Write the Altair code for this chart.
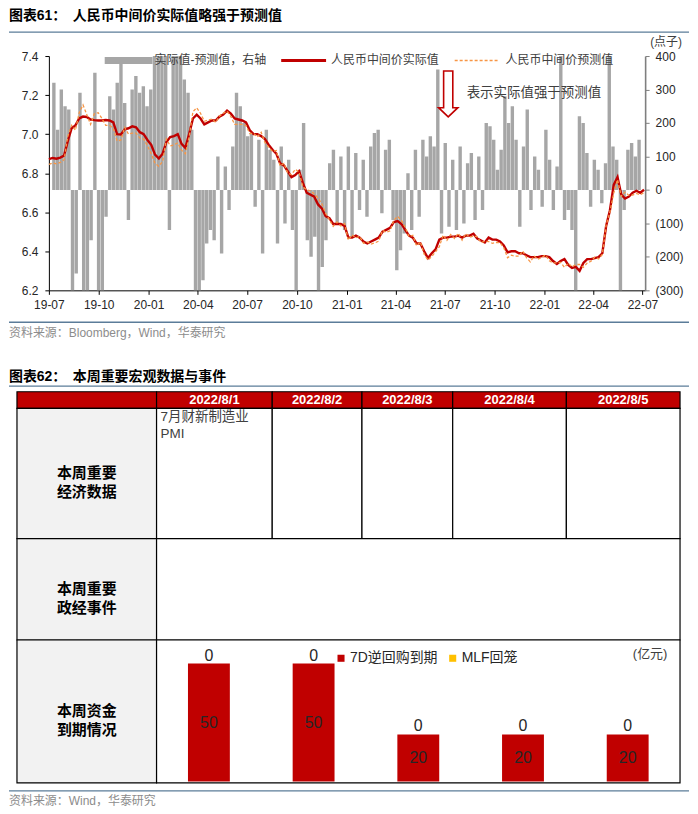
import altair as alt
import pandas as pd

# ---------------- Figure 61 data (weekly readings) ----------------
dates = pd.date_range("2019-07-01", periods=158, freq="7D").strftime("%Y-%m-%d").tolist()

diff_points = [
    320, 180, 300, 250, 240,
    -330, -250, 290, -320,
    -330, -150, 350, -330, -320, -80,
    280, 240, 320, 380, 260, -90, 300, 340, 290, 310, 250, 300,
    450, 450, 420, 400,
    -120, 450, 450, 440,
    330, 290, 180,
    -330, -330,
    -270, -160, -120,
    -150, 100, -190, 70, -60,
    130, 290, 250, 200, 160,
    170, -50, 150,
    -190, 180, 120,
    90, -160, 130, -100,
    90, -120, -330, 60,
    200, -150, -200, -140, -330,
    -230, -150, 80, 120, -100,
    100, -120, 130, -140, 110, -60,
    90, -80, 130, 170, 180, -70, 120, 150, -90,
    -240, -180, -130, 50, -120,
    120, -80, 150, 100, 160, 130, 360,
    -130, 140, -110, 90, -120,
    130, -100, 80, 110, -90, 100, -60,
    200, 190, 150, 60,
    120, 280, 200, 250, 150,
    -110, 130, 240, -60, 100,
    60, -50, 180, 90, -60, 70,
    420,
    -90, -60, -120, -330,
    220, 200,
    110, -50, 90, 60, -40, 80,
    430,
    130, 90,
    -330,
    -60, 120, 140, 100, 150,
]

fix_actual = [
    6.872, 6.878, 6.874, 6.880, 6.890, 6.965, 7.030, 7.045, 7.080, 7.090,
    7.088, 7.075, 7.072, 7.070, 7.070, 7.072, 7.070, 7.060, 7.000, 6.998,
    7.025, 7.030, 7.040, 7.035, 7.010, 7.000, 6.970, 6.945, 6.895, 6.875,
    6.900, 6.960, 6.985, 6.990, 7.000, 6.950, 6.930, 7.000, 7.080, 7.100,
    7.080, 7.050, 7.060, 7.070, 7.070, 7.090, 7.100, 7.120, 7.105, 7.080,
    7.075, 7.070, 7.060, 7.020, 7.000, 7.000, 6.990, 6.975, 6.945, 6.920,
    6.900, 6.850, 6.840, 6.810, 6.780, 6.790, 6.810, 6.750, 6.700, 6.690,
    6.680, 6.640, 6.620, 6.580, 6.570, 6.540, 6.540, 6.540, 6.530, 6.470,
    6.470, 6.480, 6.470, 6.450, 6.440, 6.450, 6.460, 6.470, 6.500, 6.510,
    6.520, 6.550, 6.555, 6.540, 6.510, 6.480, 6.470, 6.440, 6.440, 6.400,
    6.365, 6.390, 6.410, 6.460, 6.470, 6.470, 6.475, 6.475, 6.480, 6.470,
    6.480, 6.480, 6.490, 6.465, 6.455, 6.445, 6.470, 6.460, 6.460, 6.450,
    6.430, 6.395, 6.400, 6.400, 6.390, 6.390, 6.380, 6.370, 6.370, 6.370,
    6.375, 6.375, 6.370, 6.350, 6.335, 6.350, 6.360, 6.330, 6.315, 6.320,
    6.300, 6.340, 6.360, 6.360, 6.365, 6.370, 6.390, 6.530, 6.610, 6.740,
    6.780, 6.690, 6.670, 6.680, 6.700, 6.710, 6.700, 6.715,
]

fix_forecast = [
    6.845, 6.852, 6.848, 6.855, 6.868, 6.990, 7.045, 7.020, 7.110, 7.150,
    7.100, 7.050, 7.105, 7.110, 7.080, 7.045, 7.045, 7.030, 6.965, 6.970,
    7.035, 7.000, 7.005, 7.005, 6.980, 6.975, 6.940, 6.900, 6.850, 6.835,
    6.860, 6.975, 6.940, 6.945, 6.955, 6.918, 6.900, 6.985, 7.115, 7.135,
    7.107, 7.066, 7.072, 7.077, 7.060, 7.093, 7.107, 7.118, 7.090, 7.050,
    7.050, 7.050, 7.044, 7.003, 7.005, 6.985, 7.009, 6.957, 6.933, 6.911,
    6.916, 6.837, 6.850, 6.801, 6.792, 6.820, 6.805, 6.730, 6.715, 6.710,
    6.694, 6.673, 6.643, 6.595, 6.562, 6.528, 6.550, 6.530, 6.542, 6.457,
    6.484, 6.469, 6.476, 6.441, 6.448, 6.437, 6.443, 6.452, 6.507, 6.498,
    6.505, 6.559, 6.579, 6.558, 6.523, 6.475, 6.482, 6.428, 6.448, 6.385,
    6.355, 6.374, 6.397, 6.424, 6.483, 6.456, 6.486, 6.466, 6.492, 6.457,
    6.490, 6.472, 6.479, 6.474, 6.445, 6.451, 6.450, 6.441, 6.445, 6.444,
    6.418, 6.367, 6.380, 6.375, 6.375, 6.401, 6.367, 6.346, 6.376, 6.360,
    6.369, 6.380, 6.352, 6.341, 6.341, 6.343, 6.318, 6.339, 6.321, 6.332,
    6.333, 6.318, 6.340, 6.349, 6.370, 6.361, 6.384, 6.534, 6.602, 6.697,
    6.767, 6.681, 6.703, 6.686, 6.688, 6.696, 6.690, 6.700,
]

left_ticks = [6.2, 6.4, 6.6, 6.8, 7.0, 7.2, 7.4]
right_ticks = [-300, -200, -100, 0, 100, 200, 300, 400]
quarter_ticks = [(2019, 7), (2019, 10), (2020, 1), (2020, 4), (2020, 7), (2020, 10),
                 (2021, 1), (2021, 4), (2021, 7), (2021, 10), (2022, 1), (2022, 4), (2022, 7)]

# ---------------- Figure 62 data ----------------
week_days = ["2022/8/1", "2022/8/2", "2022/8/3", "2022/8/4", "2022/8/5"]
repo_7d = [50, 50, 20, 20, 20]
mlf_due = [0, 0, 0, 0, 0]
series_names = ["7D逆回购到期", "MLF回笼"]
econ_events = ["7月财新制造业\nPMI", "", "", "", ""]

# ---------------- styles ----------------
RED = "#C00000"
ORANGE = "#F79646"
GRAY = "#A6A6A6"
RULE = "#5B7C99"
FONT_NUM = "Liberation Sans"
FONT_CN = "Noto Sans CJK SC"
FONT_MIX = "Liberation Sans, Noto Sans CJK SC"

W, H = 598, 235
col_edges = [-32, 108, 224, 314, 405, 519, 633]
row_edges = [336.7, 353.3, 484, 585.7, 729]

ts = pd.DataFrame({"date": dates, "diff": diff_points,
                   "actual": fix_actual, "forecast": fix_forecast})

x_scale = alt.Scale(domain=[alt.DateTime(year=2019, month=7, date=1),
                            alt.DateTime(year=2022, month=7, date=6)])
y_left = alt.Scale(domain=[6.2, 7.4], zero=False, nice=False)
y_right = alt.Scale(domain=[-300, 400], nice=False)

bars = alt.Chart(ts).mark_bar(color=GRAY, size=3.4, clip=True).encode(
    x=alt.X("date:T", scale=x_scale, axis=None),
    y=alt.Y("diff:Q", scale=y_right,
            axis=alt.Axis(orient="right", values=right_ticks, title=None, grid=False,
                          labelExpr="datum.value < 0 ? '(' + format(-datum.value, 'd') + ')' : format(datum.value, 'd')",
                          labelFont=FONT_NUM, labelFontSize=12, labelColor="#262626",
                          domainColor="#7F7F7F", domainWidth=1.6, tickColor="#7F7F7F",
                          tickSize=4, labelPadding=6)),
)

line_actual = alt.Chart(ts).mark_line(color=RED, strokeWidth=2.4).encode(
    x=alt.X("date:T", scale=x_scale,
            axis=alt.Axis(orient="bottom", title=None, grid=False, format="%y-%m",
                          values=[alt.DateTime(year=y, month=m, date=1) for y, m in quarter_ticks],
                          labelFont=FONT_NUM, labelFontSize=12, labelColor="#262626",
                          labelFlush=False, labelOverlap=False, domainColor="black",
                          tickColor="black", tickSize=4, labelPadding=5)),
    y=alt.Y("actual:Q", scale=y_left,
            axis=alt.Axis(orient="left", values=left_ticks, format=".1f", title=None, grid=False,
                          labelFont=FONT_NUM, labelFontSize=12, labelColor="#262626",
                          domainColor="black", tickColor="black", tickSize=4, labelPadding=7)),
)

line_forecast = alt.Chart(ts).mark_line(color=ORANGE, strokeWidth=1.3, strokeDash=[3, 2]).encode(
    x=alt.X("date:T", scale=x_scale, axis=None),
    y=alt.Y("forecast:Q", scale=y_left, axis=None),
)


# ---------------- helpers for decoration / table layout (pixel positions) ----------------
def px_text(rows, **kw):
    df = pd.DataFrame(rows, columns=["px", "py", "label"])
    return alt.Chart(df).mark_text(**kw).encode(
        x=alt.X("px:Q", scale=None, axis=None),
        y=alt.Y("py:Q", scale=None, axis=None),
        text="label:N",
    )


def px_rule(rows, **kw):
    df = pd.DataFrame(rows, columns=["px", "px2", "py"])
    return alt.Chart(df).mark_rule(**kw).encode(
        x=alt.X("px:Q", scale=None, axis=None),
        x2="px2:Q",
        y=alt.Y("py:Q", scale=None, axis=None),
    )


def px_rect(rows, **kw):
    df = pd.DataFrame(rows, columns=["px", "px2", "py", "py2", "fillc"])
    return alt.Chart(df).mark_rect(**kw).encode(
        x=alt.X("px:Q", scale=None, axis=None),
        x2="px2:Q",
        y=alt.Y("py:Q", scale=None, axis=None),
        y2="py2:Q",
        color=alt.Color("fillc:N", scale=None),
    )


section_rules = px_rule([(-40, 642, -24), (-40, 642, 267), (-40, 642, 331), (-40, 642, 737)],
                        color=RULE, strokeWidth=1.3)

titles = px_text([(-40, -40, "图表61："), (24, -40, "人民币中间价实际值略强于预测值"),
                  (-40, 322, "图表62："), (24, 322, "本周重要宏观数据与事件")],
                 font=FONT_MIX, fontSize=14, fontWeight="bold", align="left",
                 baseline="middle", color="black")

sources = px_text([(-40, 278, "资料来源：Bloomberg，Wind，华泰研究"),
                   (-40, 747, "资料来源：Wind，华泰研究")],
                  font=FONT_MIX, fontSize=12, align="left", baseline="middle", color="#8C8C8C")

unit_text = px_text([(619, -14, "(点子)")], font=FONT_MIX, fontSize=12, align="center",
                    baseline="middle", color="#404040")

legend_texts = px_text([(106, 4, "实际值-预测值，右轴"), (283, 4, "人民币中间价实际值"),
                        (458, 4, "人民币中间价预测值")],
                       font=FONT_MIX, fontSize=12, align="left", baseline="middle", color="#404040")
legend_bar = px_rect([(56, 104, 1, 8, GRAY)])
legend_red = px_rule([(233, 278, 4.5)], color=RED, strokeWidth=3)
legend_orange = px_rule([(407, 452, 4.5)], color=ORANGE, strokeWidth=1.5, strokeDash=[3, 2])

note_text = px_text([(419, 37, "表示实际值强于预测值")], font=FONT_CN, fontSize=13.5,
                    align="left", baseline="middle", color="#404040")
ARROW = "M -0.2 -1 L 0.2 -1 L 0.2 0.6 L 0.42 0.6 L 0 1 L -0.42 0.6 L -0.2 0.6 Z"
arrow = alt.Chart(pd.DataFrame({"px": [400.5], "py": [38.0]})).mark_point(
    shape=ARROW, size=2116, filled=True, fill="white", stroke=RED, strokeWidth=1.6, opacity=1
).encode(x=alt.X("px:Q", scale=None, axis=None), y=alt.Y("py:Q", scale=None, axis=None))

# ---------------- table ----------------
cells = []
for i in range(6):
    cells.append((col_edges[i], col_edges[i + 1], row_edges[0], row_edges[1], RED))
for r in (1, 2, 3):
    cells.append((col_edges[0], col_edges[1], row_edges[r], row_edges[r + 1], "#F2F2F2"))
for i in range(1, 6):
    cells.append((col_edges[i], col_edges[i + 1], row_edges[1], row_edges[2], "white"))
cells.append((col_edges[1], col_edges[6], row_edges[2], row_edges[3], "white"))
cells.append((col_edges[1], col_edges[6], row_edges[3], row_edges[4], "white"))
table_cells = px_rect(cells, stroke="black", strokeWidth=1.2)

header_texts = px_text(
    [((col_edges[i] + col_edges[i + 1]) / 2, (row_edges[0] + row_edges[1]) / 2, d)
     for i, d in enumerate(week_days, start=1)],
    font=FONT_NUM, fontSize=13, fontWeight="bold", color="white", align="center", baseline="middle")

row_labels = px_text(
    [((col_edges[0] + col_edges[1]) / 2, (row_edges[r] + row_edges[r + 1]) / 2, t)
     for r, t in zip((1, 2, 3), ["本周重要\n经济数据", "本周重要\n政经事件", "本周资金\n到期情况"])],
    font=FONT_CN, fontSize=15, fontWeight="bold", color="black", align="center",
    baseline="middle", lineBreak="\n", lineHeight=19)

event_texts = px_text(
    [(col_edges[i] + 4, row_edges[1] + 9, t) for i, t in enumerate(econ_events, start=1) if t],
    font=FONT_MIX, fontSize=13.5, color="#404040", align="left", baseline="middle",
    lineBreak="\n", lineHeight=17)

# ---------------- maturity bars ----------------
repo = pd.DataFrame({
    "day": week_days * 2,
    "kind": [series_names[0]] * 5 + [series_names[1]] * 5,
    "amount": repo_7d + mlf_due,
    "ord": [0] * 5 + [1] * 5,
})
rx = alt.Scale(domain=week_days, range=[col_edges[1], col_edges[6]], paddingInner=0.6, paddingOuter=0.3)
ry = alt.Scale(domain=[0, 60], range=[row_edges[4] - 1.3, row_edges[3]], nice=False)

repo_bars = alt.Chart(repo).mark_bar().encode(
    x=alt.X("day:N", scale=rx, axis=None, sort=week_days),
    y=alt.Y("amount:Q", scale=ry, axis=None, stack="zero"),
    color=alt.Color("kind:N", scale=alt.Scale(domain=series_names, range=[RED, "#FFC000"]),
                    legend=alt.Legend(orient="none", legendX=286, legendY=597, direction="horizontal",
                                      title=None, symbolType="square", symbolSize=50,
                                      symbolStrokeWidth=0, labelFont=FONT_MIX, labelFontSize=14,
                                      labelColor="#262626", columnPadding=8, labelOffset=2,
                                      padding=0)),
    order=alt.Order("ord:Q"),
)

repo_inner = alt.Chart(repo).transform_filter(
    alt.datum.kind == series_names[0]
).transform_calculate(mid="datum.amount / 2").mark_text(
    font="Liberation Sans Narrow, Liberation Sans", fontSize=16, color="#262626", baseline="middle"
).encode(
    x=alt.X("day:N", scale=rx, axis=None, sort=week_days),
    y=alt.Y("mid:Q", scale=ry, axis=None),
    text="amount:Q",
)

repo_top = alt.Chart(repo).transform_joinaggregate(
    total="sum(amount)", groupby=["day"]
).transform_filter(alt.datum.kind == series_names[1]).mark_text(
    font="Liberation Sans Narrow, Liberation Sans", fontSize=16, color="#262626",
    baseline="middle", dy=-8
).encode(
    x=alt.X("day:N", scale=rx, axis=None, sort=week_days),
    y=alt.Y("total:Q", scale=ry, axis=None),
    text="amount:Q",
)

unit_text2 = px_text([(603, 600, "(亿元)")], font=FONT_MIX, fontSize=13, align="center",
                     baseline="middle", color="#404040")

chart = alt.layer(
    bars, line_actual, line_forecast,
    legend_bar, legend_red, legend_orange, legend_texts,
    arrow, note_text, unit_text,
    section_rules, titles, sources,
    table_cells, header_texts, row_labels, event_texts,
    repo_bars, repo_inner, repo_top, unit_text2,
).resolve_scale(
    x="independent", y="independent", color="independent"
).properties(
    width=W, height=H, padding=0
).configure_view(stroke=None)

chart.save("out.html", embed_options={"renderer": "svg", "actions": False})
